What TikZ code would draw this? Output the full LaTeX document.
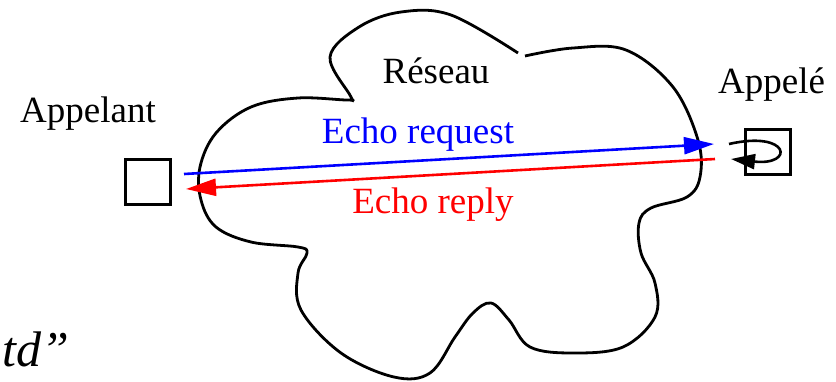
\documentclass[tikz,border=0pt]{standalone}
\usepackage{fontspec}
\setmainfont{Liberation Serif}
\usetikzlibrary{arrows.meta}

\tikzset{
  lbl/.style={inner sep=0pt, font=\fontsize{37}{40}\selectfont},
  host/.style={draw, line width=2.8pt, minimum size=45pt, inner sep=0pt},
  msg/.style={line width=2.6pt, -{Triangle[length=30pt,width=17pt]}}
}

\begin{document}
\begin{tikzpicture}[x=1pt,y=-1pt]
        \useasboundingbox (0,0) rectangle (836,381);

        % le reseau
        \draw[line width=2.8pt] plot[smooth, tension=0.6] coordinates {
          (525,56) (573,48) (626,50) (673,87) (698,140) (700,177) (687,197)
          (651,208) (639,223) (641,253) (655,283) (655,317) (623,347)
          (573,353) (530,347) (509,320) (491,303) (473,313) (455,337)
          (430,373) (394,377) (341,353) (301,310) (298,273) (307,253)
          (298,247) (251,242) (216,227) (201,200) (200,167) (216,133)
          (251,107) (298,98) (348,100) (351,97) (330,57) (359,27) (401,12)
          (451,15) (518,53)};

        \node[host] (appelant) at (148,182) {};
        \node[host] (appele)   at (768,152) {};

        \node[lbl, anchor=base west] (lappelant) at (20,122) {Appelant};
        \node[lbl, anchor=base west] (lappele)   at (718,93)  {Appelé};
        \node[lbl, anchor=base]      (reseau)    at (436,83)  {Réseau};
        \node[lbl, anchor=base, blue] (lreq)     at (418,143) {Echo request};
        \node[lbl, anchor=base, red]  (lrep)     at (433,213) {Echo reply};
        \node[inner sep=0pt, anchor=base west, font=\fontsize{50}{52}\selectfont\itshape]
             (suite) at (2,366) {td”};

        \coordinate (reqA) at (184,174);
        \coordinate (reqB) at (714,144);
        \coordinate (repA) at (715,159);
        \coordinate (repB) at (186,189);
        \coordinate (boucleA) at (729,144);
        \coordinate (boucleB) at (731,159);

        \draw[msg, blue] (reqA) -- (reqB);
        \draw[msg, red]  (repA) -- (repB);
        \draw[line width=2.6pt, -{Triangle[length=24pt,width=15pt]}]
             (boucleA) .. controls (790,130) and (795,166) .. (boucleB);
    \end{tikzpicture}
\end{document}
